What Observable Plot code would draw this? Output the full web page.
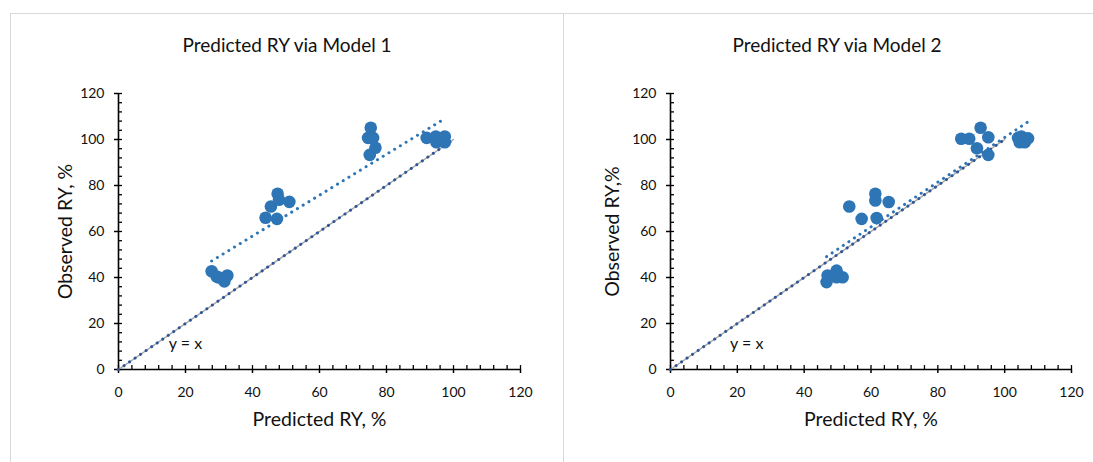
<!DOCTYPE html>
<html><head><meta charset="utf-8">
<script src="https://cdn.jsdelivr.net/npm/d3@7"></script>
<script src="https://cdn.jsdelivr.net/npm/@observablehq/plot@0.6"></script>
<style>
html,body{margin:0;padding:0;background:#fff;overflow:hidden;width:1093px;height:462px;}
#wrap{position:absolute;left:10px;top:13px;width:1100px;height:470px;}
.panel{position:absolute;top:0;height:470px;border:1px solid #d9d9d9;box-sizing:border-box;background:#fff;}
.title{position:absolute;left:0;width:100%;top:19px;text-align:center;font-family:Lato,"Open Sans",sans-serif;font-size:19px;color:#111;}
.panel svg{position:absolute;left:0;top:0;}
</style>
</head><body>
<div id="wrap">
  <div class="panel" id="p1" style="left:0;width:554px;"><div class="title" id="t1"></div></div>
  <div class="panel" id="p2" style="left:553px;width:560px;"><div class="title" id="t2" style="width:546px"></div></div>
</div>
<script>
// ---- data ----
const titles = ["Predicted RY via Model 1", "Predicted RY via Model 2"];
const xLabels = ["Predicted RY, %", "Predicted RY, %"];
const yLabels = ["Observed RY, %", "Observed RY,%"];
const majorTicks = [0, 20, 40, 60, 80, 100, 120];
const minorTicks = d3.range(0, 121, 4);

// Model 1: predicted (x) and observed (y)
const model1Pred = [27.8, 29.3, 31.6, 32.5, 30.0, 43.9, 45.5, 47.5, 47.9, 51.0, 47.3, 75.3, 74.5, 76.0, 76.7, 75.0, 92.0, 94.7, 94.9, 97.4, 97.4, 96.4];
const model1Obs  = [42.7, 40.4, 38.3, 40.9, 40.0, 66.0, 70.9, 76.4, 73.8, 72.9, 65.5, 105.1, 100.7, 100.7, 96.4, 93.3, 100.7, 101.3, 98.8, 101.3, 98.8, 100.3];

// Model 2: predicted (x) and observed (y)
const model2Pred = [47.0, 49.7, 51.5, 46.7, 49.7, 53.5, 61.3, 61.3, 65.3, 57.2, 61.7, 87.0, 89.4, 92.8, 95.1, 91.7, 95.1, 104.0, 105.0, 106.5, 104.5, 106.0, 107.0];
const model2Obs  = [40.9, 43.0, 40.1, 38.0, 40.1, 70.9, 76.4, 73.5, 72.8, 65.5, 65.9, 100.3, 100.3, 105.1, 101.0, 96.2, 93.3, 100.7, 101.3, 100.3, 98.8, 98.8, 100.5];

// y = x reference line
const identityX = [0, 100];
const identityY = [0, 100];

const FONT = 'Lato, "Open Sans", sans-serif';
const BLUE = "#2E75B6";
const DARK = "#2F5597";

function panel(idx, pred, obs, geom) {
  const pts = pred.map((x, i) => ({x, y: obs[i]}));
  const idLine = identityX.map((x, i) => ({x, y: identityY[i]}));
  return Plot.plot({
    width: geom.width, height: 448,
    marginLeft: geom.ml, marginRight: geom.mr, marginTop: 79, marginBottom: 93,
    style: {fontFamily: FONT, fontSize: "14px", color: "#111", background: "transparent"},
    x: {domain: [0, 120]},
    y: {domain: [0, 120]},
    marks: [
      Plot.axisX({ticks: majorTicks, tickSize: 4, tickPadding: 14, fontSize: 14, label: null, stroke: "#000", strokeWidth: 1.5}),
      Plot.axisY({ticks: majorTicks, tickSize: 4, tickPadding: 10, fontSize: 14, label: null, stroke: "#000", strokeWidth: 1.5}),
      Plot.ruleX(minorTicks, {x: d => d, y1: 0, y2: 1.7, stroke: "#000", strokeWidth: 1.3}),
      Plot.ruleY(minorTicks, {y: d => d, x1: 0, x2: 1.2, stroke: "#000", strokeWidth: 1.3}),
      Plot.ruleY([0], {x1: 0, x2: 120, stroke: "#000", strokeWidth: 1.6}),
      Plot.ruleX([0], {y1: 0, y2: 120, stroke: "#000", strokeWidth: 1.6}),
      Plot.linearRegressionY(pts, {x: "x", y: "y", ci: 0, stroke: BLUE, strokeWidth: 3, strokeDasharray: "0.1,6.6", strokeLinecap: "round"}),
      Plot.line(idLine, {x: "x", y: "y", stroke: "#a6a6a6", strokeWidth: 1.5}),
      Plot.line(idLine, {x: "x", y: "y", stroke: DARK, strokeWidth: 3, strokeDasharray: "0.1,6.6", strokeLinecap: "round"}),
      Plot.dot(pts, {x: "x", y: "y", r: 6.3, fill: BLUE, stroke: "none"}),
      Plot.text(["y = x"], {x: geom.labX, y: 11, text: d => d, fontSize: 16, fill: "#111"}),
      Plot.text([xLabels[idx]], {frameAnchor: "bottom", dy: 56, textAnchor: "middle", text: d => d, fontSize: 19.5, fill: "#111"}),
      Plot.text([yLabels[idx]], {frameAnchor: "left", dx: geom.ylab, rotate: -90, textAnchor: "middle", text: d => d, fontSize: 19.5, fill: "#111"})
    ]
  });
}

document.getElementById("t1").textContent = titles[0];
document.getElementById("t2").textContent = titles[1];
document.getElementById("p1").appendChild(panel(0, model1Pred, model1Obs, {width: 552, ml: 107, mr: 43, labX: 20, ylab: -53}));
document.getElementById("p2").appendChild(panel(1, model2Pred, model2Obs, {width: 552, ml: 106, mr: 45, labX: 22.8, ylab: -58}));
</script>
</body></html>
